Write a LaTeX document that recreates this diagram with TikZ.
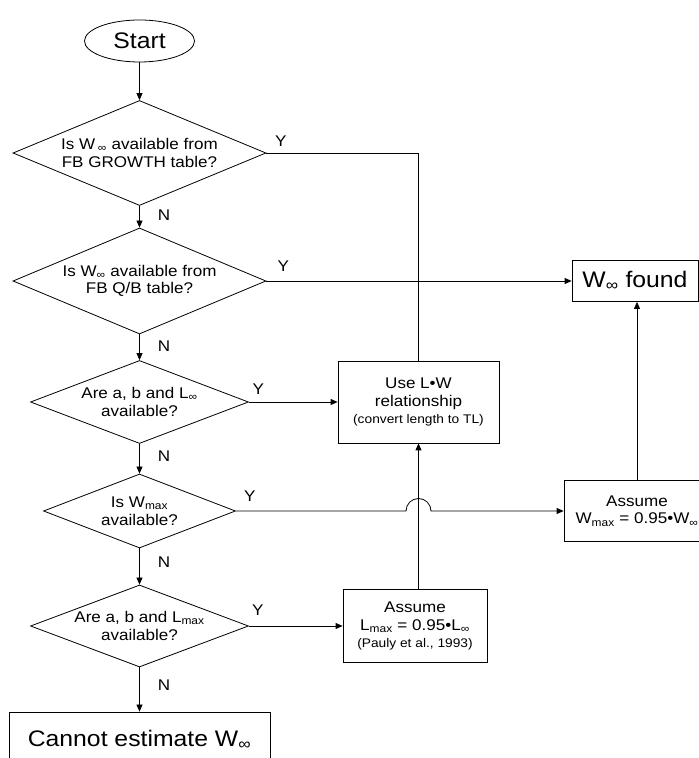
\documentclass[tikz,border=0pt]{standalone}
\usepackage{fontspec}
\setmainfont{Liberation Sans}[FakeStretch=1.1]
\usetikzlibrary{shapes.geometric,arrows.meta,calc}
\newcommand\fmain{\fontsize{15.5}{17.5}\selectfont}
\newcommand\fbig{\fontsize{22.5}{26}\selectfont}
\newcommand\fsmall{\fontsize{12.5}{15}\selectfont}
\newcommand\infsub{\textsubscript{∞}}
\begin{document}
\begin{tikzpicture}[x=1pt,y=1pt,line width=0.8pt,
  arr/.style={-{Triangle[length=7pt,width=6pt]}},
  decision/.style={diamond,draw,inner sep=0pt,align=center,font=\fmain},
  procbox/.style={rectangle,draw,inner sep=0pt,align=center,font=\fmain},
  lab/.style={font=\fmain,inner sep=0pt}]
\useasboundingbox (0,0) rectangle (699,758);

\node[ellipse,draw,minimum width=110pt,minimum height=42pt,inner sep=0pt,font=\fbig] (start) at (139.5,717) {Start};

\node[decision,minimum width=253pt,minimum height=105pt,shape aspect=2.41] (d1) at (139.5,605)
  {Is W\,\infsub{} available from\\FB GROWTH table?};
\node[decision,minimum width=253pt,minimum height=106pt,shape aspect=2.39] (d2) at (139.5,477)
  {Is W\infsub{} available from\\FB Q/B table?};
\node[decision,minimum width=218pt,minimum height=83pt,shape aspect=2.63] (d3) at (139.5,356)
  {Are a, b and L\infsub\\available?};
\node[decision,minimum width=192pt,minimum height=74pt,shape aspect=2.59] (d4) at (139.5,247)
  {Is W\textsubscript{max}\\available?};
\node[decision,minimum width=218pt,minimum height=82pt,shape aspect=2.66] (d5) at (139.5,132)
  {Are a, b and L\textsubscript{max}\\available?};

\node[procbox,minimum width=261pt,minimum height=56pt,font=\fbig] (cannot) at (139.5,18)
  {Cannot estimate W\infsub};

\node[procbox,minimum width=126pt,minimum height=41pt,font=\fbig] (wfound) at (635,477)
  {W\infsub{} found};
\node[procbox,minimum width=161pt,minimum height=82pt] (uselw) at (418.5,356)
  {Use L•W\\relationship\\{\fsmall (convert length to TL)}};
\node[procbox,minimum width=146pt,minimum height=61pt] (assumew) at (637,247)
  {Assume\\W\textsubscript{max} = 0.95•W\infsub};
\node[procbox,minimum width=144pt,minimum height=73pt] (assumel) at (415,132)
  {Assume\\L\textsubscript{max} = 0.95•L\infsub\\{\fsmall (Pauly et al., 1993)}};

% vertical flow
\draw[arr] (start) -- (d1);
\draw[arr] (d1) -- node[lab,anchor=west,xshift=18pt,yshift=2pt]{N} (d2);
\draw[arr] (d2) -- node[lab,anchor=west,xshift=18pt,yshift=1pt]{N} (d3);
\draw[arr] (d3) -- node[lab,anchor=west,xshift=18pt,yshift=3pt]{N} (d4);
\draw[arr] (d4) -- node[lab,anchor=west,xshift=18pt,yshift=4pt]{N} (d5);
\draw[arr] (d5) -- node[lab,anchor=west,xshift=18pt,yshift=4pt]{N} (cannot);

% yes branches
\draw (d1.east) -| (uselw.north);
\node[lab] (y1) at ($(d1.east)+(14.5,12)$) {Y};
\draw[arr] (d2.east) -- (wfound.west);
\node[lab] (y2) at ($(d2.east)+(17,15)$) {Y};
\draw[arr] (d3.east) -- (uselw.west);
\node[lab] (y3) at ($(d3.east)+(9.5,13)$) {Y};
\coordinate (hump) at (uselw.south |- d4.east);
\draw[arr] (d4.east) -- ($(hump)+(-12.5,0)$) arc[start angle=180,end angle=0,radius=12.5pt] -- (assumew.west);
\node[lab] (y4) at ($(d4.east)+(14,15)$) {Y};
\draw[arr] (d5.east) -- (assumel.west);
\node[lab] (y5) at ($(d5.east)+(9,16)$) {Y};

% from process boxes
\draw[arr] (uselw.south |- assumel.north) -- (uselw.south);
\draw[arr] (assumew.north) -- (assumew.north |- wfound.south);
\end{tikzpicture}
\end{document}
